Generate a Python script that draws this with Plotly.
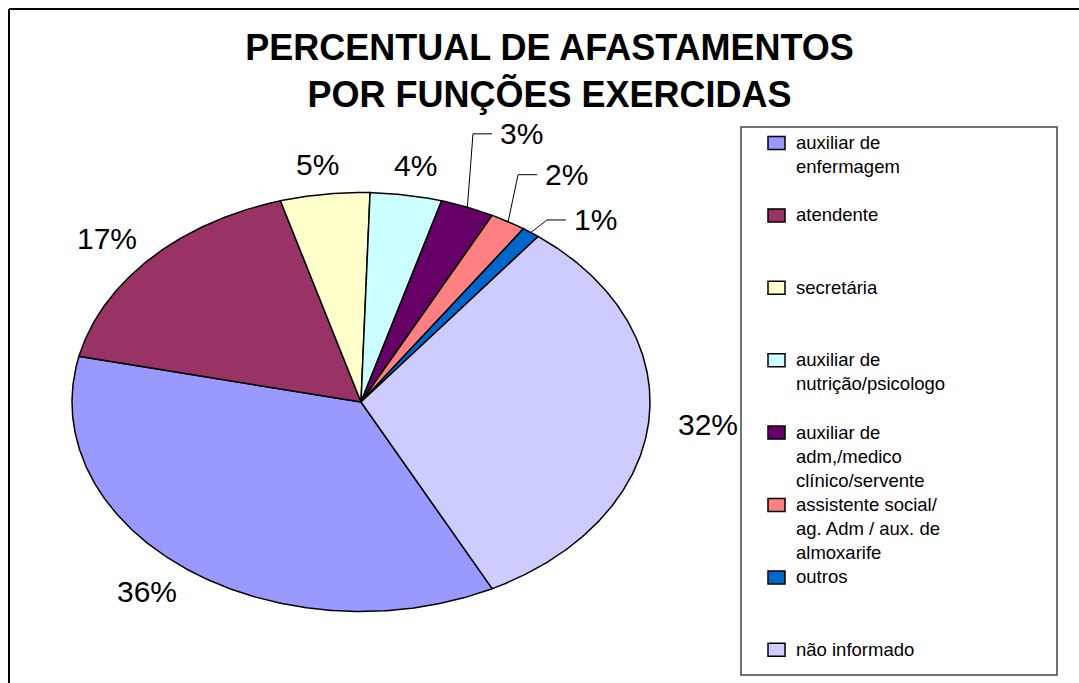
import numpy as np
import plotly.graph_objects as go

# ---------------- data ----------------
categories = [
    "auxiliar de<br>enfermagem",
    "atendente",
    "secretária",
    "auxiliar de<br>nutrição/psicologo",
    "auxiliar de<br>adm,/medico<br>clínico/servente",
    "assistente social/<br>ag. Adm / aux. de<br>almoxarife",
    "outros",
    "não informado",
]
values = [36, 17, 5, 4, 3, 2, 1, 32]
colors = ["#9999FF", "#993366", "#FFFFCC", "#CCFFFF",
          "#660066", "#FF8080", "#0066CC", "#CCCCFF"]
title_lines = ["PERCENTUAL DE AFASTAMENTOS", "POR FUNÇÕES EXERCIDAS"]

# ---------------- layout / style ----------------
W, H = 1079, 683
CX, CY, RX, RY = 361, 402, 289, 209.5     # pie ellipse in pixels
ROTATION = 153                             # start angle, clockwise from 12 o'clock
LABEL_GAP = 0.09                           # gap between pie edge and label (unit radius)
LABEL_HALF_W, LABEL_HALF_H = 34, 11        # approx. half size of a label, pixels
FONT = "Liberation Sans, Arial, sans-serif"
# labels that were dragged away from the pie (unit coords: left edge x, centre y)
dragged = {4: (0.474, 1.28), 5: (0.630, 1.085), 6: (0.730, 0.869)}


def px(x):
    return x / W


def py(y):
    return 1 - y / H


fig = go.Figure()

total = float(sum(values))
angle = ROTATION
mids = []
for cat, v, col in zip(categories, values, colors):
    sweep = 360.0 * v / total
    th = np.radians(np.linspace(angle, angle + sweep, int(sweep * 2) + 2))
    xs = np.concatenate([[0], np.sin(th), [0]])
    ys = np.concatenate([[0], np.cos(th), [0]])
    fig.add_trace(go.Scatter(
        x=xs, y=ys, mode="lines", fill="toself", fillcolor=col,
        line=dict(color="black", width=1.5), name=cat.replace("<br>", " "),
        hoveron="fills", hoverinfo="name", showlegend=False))
    mids.append(angle + sweep / 2)
    angle += sweep

annotations = []
# percentage labels
for i, (v, m) in enumerate(zip(values, mids)):
    mr = np.radians(m)
    ux, uy = np.sin(mr), np.cos(mr)
    if i in dragged:
        lx, ly = dragged[i]
        fig.add_trace(go.Scatter(
            x=[ux, lx - 25 / RX, lx - 6 / RX],
            y=[uy, ly, ly], mode="lines",
            line=dict(color="black", width=1), hoverinfo="skip", showlegend=False))
        annotations.append(dict(x=lx, y=ly, xref="x", yref="y", text=f"{v}%",
                                showarrow=False, xanchor="left", yanchor="middle",
                                font=dict(family=FONT, size=30, color="black")))
    else:
        lx = ux * (1 + LABEL_GAP + LABEL_HALF_W / RX)
        ly = uy * (1 + LABEL_GAP + LABEL_HALF_H / RY)
        annotations.append(dict(x=lx, y=ly, xref="x", yref="y", text=f"{v}%",
                                showarrow=False, xanchor="center", yanchor="middle",
                                font=dict(family=FONT, size=30, color="black")))

# legend (manual, to mimic the Excel layout)
shapes = []
LEG_TOP, LEG_STEP, LEG_FS = 143, 72.4, 18.5
for i, (cat, col) in enumerate(zip(categories, colors)):
    my = LEG_TOP + i * LEG_STEP
    shapes.append(dict(type="rect", xref="paper", yref="paper",
                       x0=px(768), x1=px(785), y0=py(my - 6.5), y1=py(my + 6.5),
                       fillcolor=col, line=dict(color="black", width=1.5)))
    annotations.append(dict(x=px(795), y=py(my - 0.65 * LEG_FS), xref="paper", yref="paper",
                            text=cat, showarrow=False, xanchor="left", yanchor="top",
                            align="left", borderpad=0,
                            font=dict(family=FONT, size=LEG_FS, color="black")))

# legend box
shapes.append(dict(type="rect", xref="paper", yref="paper",
                   x0=px(741), x1=px(1057), y0=py(127), y1=py(675),
                   line=dict(color="#444444", width=1.5), layer="below"))
# chart area border (left and top edges visible)
shapes.append(dict(type="line", xref="paper", yref="paper",
                   x0=px(9), x1=px(9), y0=py(9), y1=py(700), line=dict(color="black", width=2)))
shapes.append(dict(type="line", xref="paper", yref="paper",
                   x0=px(9), x1=px(1100), y0=py(9), y1=py(9), line=dict(color="black", width=2)))

fig.update_layout(
    width=W, height=H,
    margin=dict(l=0, r=0, t=0, b=0),
    paper_bgcolor="white", plot_bgcolor="white",
    title=dict(text="<b>" + "<br>".join(title_lines) + "</b>",
               x=549.5 / W, xanchor="center", y=py(60), yanchor="top",
               font=dict(family=FONT, size=36, color="black")),
    xaxis=dict(range=[-CX / RX, (W - CX) / RX], domain=[0, 1], visible=False, fixedrange=True),
    yaxis=dict(range=[(CY - H) / RY, CY / RY], domain=[0, 1], visible=False, fixedrange=True),
    annotations=annotations,
    shapes=shapes,
    showlegend=False,
)

fig.write_html("out.html", config={"displayModeBar": False},
               post_script="document.body.style.margin='0';document.body.style.overflow='hidden';")
